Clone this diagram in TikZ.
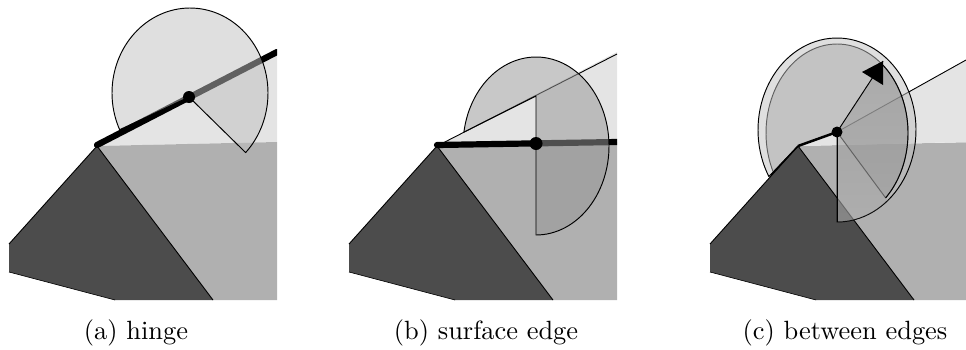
\documentclass[tikz,border=0pt]{standalone}
\definecolor{lightface}{RGB}{228,228,228}
\definecolor{midface}{RGB}{176,176,176}
\definecolor{darkface}{RGB}{76,76,76}
\definecolor{pale}{RGB}{192,192,192}
\definecolor{deep}{RGB}{151,151,151}
\definecolor{shade}{RGB}{120,120,120}
\tikzset{
  thinedge/.style={draw=black,line width=0.9pt,line join=round},
  thickedge/.style={black,line width=6.2pt,line cap=round},
  palesector/.style={fill=pale,fill opacity=0.5,draw=black,line width=0.95pt,line join=round},
  deepsector/.style={fill=deep,fill opacity=0.53,draw=black,line width=0.95pt,line join=round},
  caption/.style={scale=2.64,inner sep=0pt,anchor=base,text=black},
  hingedot/.style={circle,fill=black,inner sep=0pt},
  arcplot/.style={samples=90,variable=\t}
}
\newcommand{\darkface}{%
  \fill[darkface] (97,146) -- (213,300) -- (115,300) -- (9,272) -- (9,244) -- cycle;
  \draw[thinedge] (9,244) -- (97,146) -- (213,300);
  \draw[black,line width=0.6pt] (9,272) -- (115,300);
}
\newcommand{\basefaces}[1]{%
  \fill[lightface] (97,146) -- (#1,52) -- (#1,142) -- cycle;
  \fill[midface] (97,146) -- (#1,142) -- (#1,300) -- (213,300) -- cycle;
  \darkface
}
\begin{document}
\begin{tikzpicture}[x=1pt,y=-1pt]
\useasboundingbox (0,0) rectangle (966,349);
% ---- panel a
\begin{scope}
  \basefaces{277}
  \coordinate (aA) at (97,145);
  \coordinate (aC) at (189,97);
  \coordinate (aE) at (277,52);
  \begin{scope}
    \clip (0,0) rectangle (277,300);
    \draw[thickedge] (aA) -- (aE);
  \end{scope}
  \path[palesector] (aC) -- plot[arcplot,domain=-44.5:205.6] ({190+78*cos(\t)},{93-85*sin(\t)}) -- cycle;
  \node[hingedot,minimum size=12pt] (aD) at (aC) {};
\end{scope}
\node[caption] (capA) at (136,339.5) {(a) hinge};
% ---- panel b
\begin{scope}[xshift=340pt]
  \basefaces{277}
  \coordinate (bA) at (97,145);
  \coordinate (bC) at (196,143.5);
  \coordinate (bE) at (277,142);
  \coordinate (bT) at (196,96);
  \draw[thinedge] (97,146) -- (277,54);
  \begin{scope}
    \clip (0,0) rectangle (277,300);
    \draw[thickedge] (bA) -- (bE);
  \end{scope}
  \path[deepsector] (196,235) -- plot[arcplot,domain=-90:171] ({196+73*cos(\t)},{146-89*sin(\t)}) -- (bT) -- cycle;
  \node[hingedot,minimum size=13pt] (bD) at (bC) {};
\end{scope}
\node[caption] (capB) at (486,339.5) {(b) surface edge};
% ---- panel c
\begin{scope}[xshift=701pt]
  \coordinate (cA) at (97,146);
  \coordinate (cC) at (136,132);
  \coordinate (cE) at (265,60);
  \coordinate (cR) at (184,197);
  \coordinate (cV) at (136,222);
  \coordinate (cT) at (182,61);
  \begin{scope}
    \clip (0,0) rectangle (265,300);
    \fill[midface] (97,146) -- (277,142) -- (277,300) -- (213,300) -- cycle;
    \fill[lightface] (97,146) -- (cC) -- (cE) -- (265,142) -- cycle;
    \darkface
  \end{scope}
  \draw[thinedge] (cC) -- (cE);
  \path[deepsector] (cC) -- (cR) -- plot[arcplot,domain=-46.8:206.5] ({136+71*cos(\t)},{133-89*sin(\t)}) -- (cA) -- cycle;
  \path[palesector] (cC) -- (cV) -- plot[arcplot,domain=-90:210.4] ({136+79*cos(\t)},{130-92*sin(\t)}) -- (cA) -- cycle;
  \fill[shade,fill opacity=0.1] (cC) -- (cT) -- plot[arcplot,domain=51:-46.8] ({136+71*cos(\t)},{133-89*sin(\t)}) -- plot[arcplot,domain=-50:-90] ({136+79*cos(\t)},{130-92*sin(\t)}) -- cycle;
  \draw[black,line width=0.95pt] (cT) -- plot[arcplot,domain=51:-46.8] ({136+71*cos(\t)},{133-89*sin(\t)});
  \draw[black,line width=2.5pt,line join=round] (cA) -- (cC);
  \draw[black,line width=1.4pt] (70,175) -- (cA);
  \draw[black,line width=0.95pt] (cC) -- (cV);
  \draw[black,line width=0.95pt] (cC) -- (172,77);
  \fill[black] (cT) -- (161,72) -- (182,85) -- cycle;
  \node[hingedot,minimum size=11pt] (cD) at (cC) {};
\end{scope}
\node[caption] (capC) at (845,339.5) {(c) between edges};
\end{tikzpicture}
\end{document}
